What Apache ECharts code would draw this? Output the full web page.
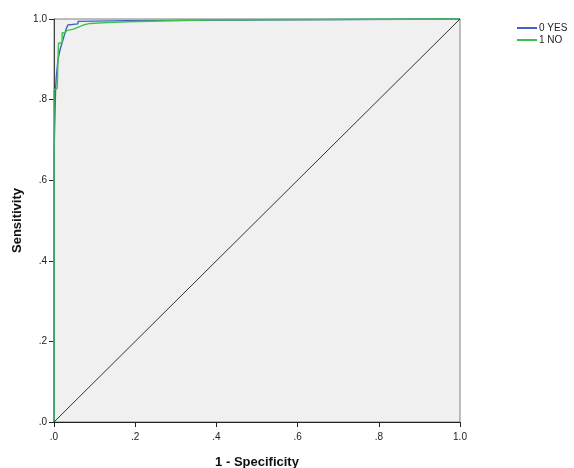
<!DOCTYPE html>
<html>
<head>
<meta charset="utf-8">
<script src="https://cdn.jsdelivr.net/npm/echarts@6/dist/echarts.min.js"></script>
<style>
  html, body { margin: 0; padding: 0; background: #fff; }
  #main { width: 574px; height: 468px; }
</style>
</head>
<body>
<div id="main"></div>
<script>
// ROC 曲线点 [1 - Specificity, Sensitivity]
var seriesNames = ['0 YES', '1 NO'];
var yesCurve = [
  [0, 0], [0, 0.667], [0.004, 0.667], [0.004, 0.83], [0.006, 0.86], [0.01, 0.90],
  [0.014, 0.92], [0.018, 0.935], [0.022, 0.948], [0.026, 0.962], [0.03, 0.975],
  [0.034, 0.985], [0.036, 0.988], [0.059, 0.988], [0.059, 0.994], [0.18, 0.996],
  [0.18, 1.0], [1, 1]
];
var noCurve = [
  [0, 0], [0, 0.824], [0.008, 0.828], [0.011, 0.94], [0.02, 0.941], [0.02, 0.966],
  [0.027, 0.966], [0.031, 0.971], [0.048, 0.975], [0.072, 0.985], [0.089, 0.989],
  [0.13, 0.991], [0.18, 0.993], [0.182, 0.997], [0.4, 0.998], [0.4, 1.0], [1, 1]
];
var refLine = [[0, 0], [1, 1]];

function tickLabel(v) {
  return v.toFixed(1).replace(/^0/, '');
}

var chart = echarts.init(document.getElementById('main'));
var font = 'Liberation Sans, Arial, sans-serif';

var option = {
  animation: false,
  textStyle: { fontFamily: font },
  grid: {
    left: 54, right: 114, top: 19, bottom: 46,
    outerBoundsMode: 'none',
    containLabel: false,
    show: true,
    backgroundColor: '#f0f0f0',
    borderColor: '#808080',
    borderWidth: 1
  },
  legend: {
    orient: 'vertical',
    left: 512, top: 18,
    itemWidth: 20, itemHeight: 2, itemGap: 2,
    icon: 'rect',
    textStyle: { fontSize: 10, color: '#222', fontFamily: font, padding: [0, 0, 0, -3] },
    data: seriesNames
  },
  xAxis: {
    type: 'value', min: 0, max: 1, interval: 0.2,
    name: '1 - Specificity',
    nameLocation: 'middle', nameGap: 34, nameMoveOverlap: false,
    nameTextStyle: { fontSize: 13, fontWeight: 'bold', color: '#111', fontFamily: font },
    axisLine: { show: true, lineStyle: { color: '#222', width: 1 } },
    axisTick: { show: true, length: 5, lineStyle: { color: '#222' } },
    axisLabel: { fontSize: 10, color: '#222', margin: 10, formatter: tickLabel },
    splitLine: { show: false }
  },
  yAxis: {
    type: 'value', min: 0, max: 1, interval: 0.2,
    name: 'Sensitivity',
    nameLocation: 'middle', nameGap: 30, nameMoveOverlap: false,
    nameTextStyle: { fontSize: 13, fontWeight: 'bold', color: '#111', fontFamily: font },
    axisLine: { show: true, lineStyle: { color: '#444', width: 1 } },
    axisTick: { show: true, length: 5, lineStyle: { color: '#222' } },
    axisLabel: { fontSize: 10, color: '#222', margin: 7, formatter: tickLabel },
    splitLine: { show: false }
  },
  series: [
    {
      name: seriesNames[0], type: 'line', data: yesCurve,
      symbol: 'none', clip: false,
      lineStyle: { color: '#4163c2', width: 1.4 },
      itemStyle: { color: '#4163c2' }
    },
    {
      name: seriesNames[1], type: 'line', data: noCurve,
      symbol: 'none', clip: false,
      lineStyle: { color: '#3cc24c', width: 1.4 },
      itemStyle: { color: '#3cc24c' }
    },
    {
      name: 'ref', type: 'line', data: refLine,
      symbol: 'none', silent: true,
      lineStyle: { color: '#333', width: 1 }
    }
  ]
};
chart.setOption(option);
</script>
</body>
</html>
